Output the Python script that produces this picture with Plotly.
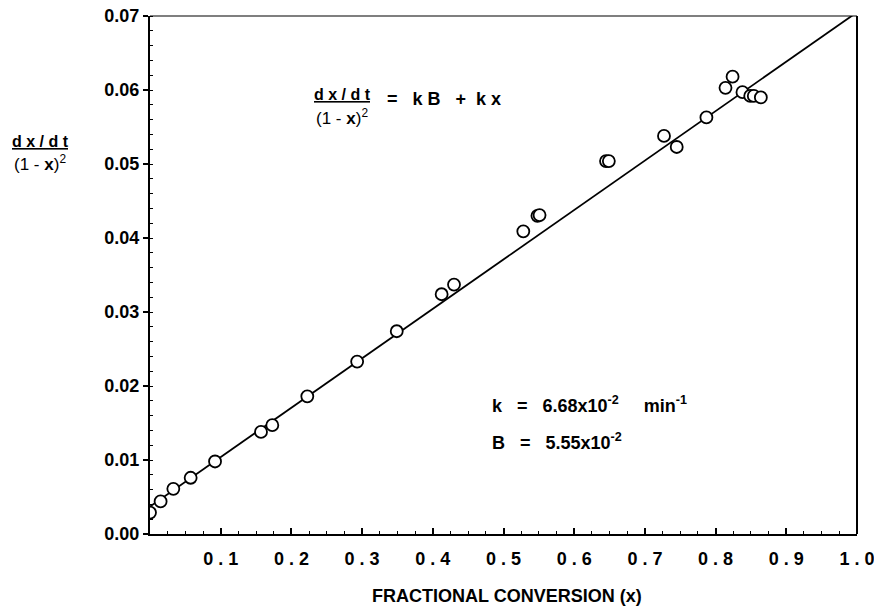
import plotly.graph_objects as go

# ---- data ----
conv_x = [0.0, 0.015, 0.033, 0.0575, 0.092, 0.157, 0.173, 0.2225, 0.293, 0.349,
          0.4125, 0.430, 0.528, 0.548, 0.551, 0.645, 0.649, 0.727, 0.745, 0.787,
          0.814, 0.824, 0.838, 0.849, 0.854, 0.864]
rate_y = [0.0029, 0.0044, 0.0061, 0.0076, 0.0098, 0.0138, 0.0147, 0.0186, 0.0233, 0.0274,
          0.0324, 0.0337, 0.0409, 0.0430, 0.0431, 0.0504, 0.0504, 0.0538, 0.0523, 0.0563,
          0.0603, 0.0618, 0.0597, 0.0592, 0.0592, 0.0590]
k_val = 6.68e-2
B_val = 5.55e-2
fit_x = [0.0, 1.0]
fit_y = [k_val * B_val + k_val * xv for xv in fit_x]

x_tick_vals = [0.1, 0.2, 0.3, 0.4, 0.5, 0.6, 0.7, 0.8, 0.9, 1.0]
x_tick_text = ["0 . 1", "0 . 2", "0 . 3", "0 . 4", "0 . 5", "0 . 6", "0 . 7", "0 . 8", "0 . 9", "1 . 0"]
y_tick_vals = [0.00, 0.01, 0.02, 0.03, 0.04, 0.05, 0.06, 0.07]
y_tick_text = ["0.00", "0.01", "0.02", "0.03", "0.04", "0.05", "0.06", "0.07"]

FONT = "Liberation Sans, Arial, Helvetica, sans-serif"
NB = "\u00a0"

fig = go.Figure()
fig.add_trace(go.Scatter(x=fit_x, y=fit_y, mode="lines",
                         line=dict(color="black", width=1.8), hoverinfo="skip"))
fig.add_trace(go.Scatter(x=conv_x, y=rate_y, mode="markers",
                         marker=dict(symbol="circle", size=12, color="white",
                                     line=dict(color="black", width=1.8))))

L, R, T, B = 150, 17, 16, 75
W, H = 874, 609
pw, ph = W - L - R, H - T - B

def px(xp):
    return (xp - L) / pw

def py(yp):
    return (H - B - yp) / ph

fig.update_layout(
    width=W, height=H,
    margin=dict(l=L, r=R, t=T, b=B, autoexpand=False),
    paper_bgcolor="white", plot_bgcolor="white",
    showlegend=False,
    font=dict(family=FONT, color="black"),
    xaxis=dict(range=[0, 1.0], showgrid=False, zeroline=False, automargin=False,
               showline=True, linecolor="black", linewidth=2,
               tickmode="array", tickvals=x_tick_vals, ticktext=x_tick_text,
               ticks="inside", ticklen=6, tickwidth=1.5, tickcolor="black",
               minor=dict(dtick=0.025, ticks="inside", ticklen=3, tickwidth=1.2, tickcolor="black"),
               tickfont=dict(family=FONT, size=18, weight="bold"),
               ticklabelstandoff=7, ticklabeloverflow="allow"),
    yaxis=dict(range=[0, 0.07], showgrid=False, zeroline=False, automargin=False,
               showline=True, linecolor="black", linewidth=2,
               tickmode="array", tickvals=y_tick_vals, ticktext=y_tick_text,
               ticks="outside", ticklen=5, tickwidth=1.5, tickcolor="black",
               minor=dict(dtick=0.002, ticks="inside", ticklen=3, tickwidth=1.2, tickcolor="black"),
               tickfont=dict(family=FONT, size=18, weight="bold"),
               ticklabeloverflow="allow"),
    shapes=[
        dict(type="line", xref="paper", yref="paper", x0=0, x1=1, y0=1, y1=1,
             line=dict(color="black", width=1.2)),
        dict(type="line", xref="paper", yref="paper", x0=1, x1=1, y0=0, y1=1,
             line=dict(color="black", width=2)),
    ],
)

num_txt = "<b><u>d x / d t</u></b>"
den_txt = "(1 - <b>x</b>)<sup>2</sup>"

def label(text, xp, yp, size, anchor="left"):
    return dict(text=text, xref="paper", yref="paper", x=px(xp), y=py(yp),
                xanchor=anchor, yanchor="middle", showarrow=False,
                font=dict(size=size))

ann = [
    # x axis title
    label("<b>FRACTIONAL CONVERSION (x)</b>", 507, 596, 18, "center"),
    # y axis title fraction
    label(num_txt, 40, 141, 16, "center"),
    label(den_txt, 40, 163, 17, "center"),
    # equation
    label(num_txt, 342, 94, 16, "center"),
    label(den_txt, 342, 117, 17, "center"),
    label("<b>=" + NB * 3 + "k" + NB + "B" + NB * 3 + "+" + NB * 2 + "k" + NB + "x</b>", 385, 99, 18),
    # constants
    label("<b>k" + NB * 3 + "=" + NB * 3 + "6.68x10<sup>-2</sup>" + NB * 5 + "min<sup>-1</sup></b>", 490, 404, 18),
    label("<b>B" + NB * 3 + "=" + NB * 3 + "5.55x10<sup>-2</sup></b>", 490, 441, 18),
]
fig.update_layout(annotations=ann)

fig.write_html("out.html")
